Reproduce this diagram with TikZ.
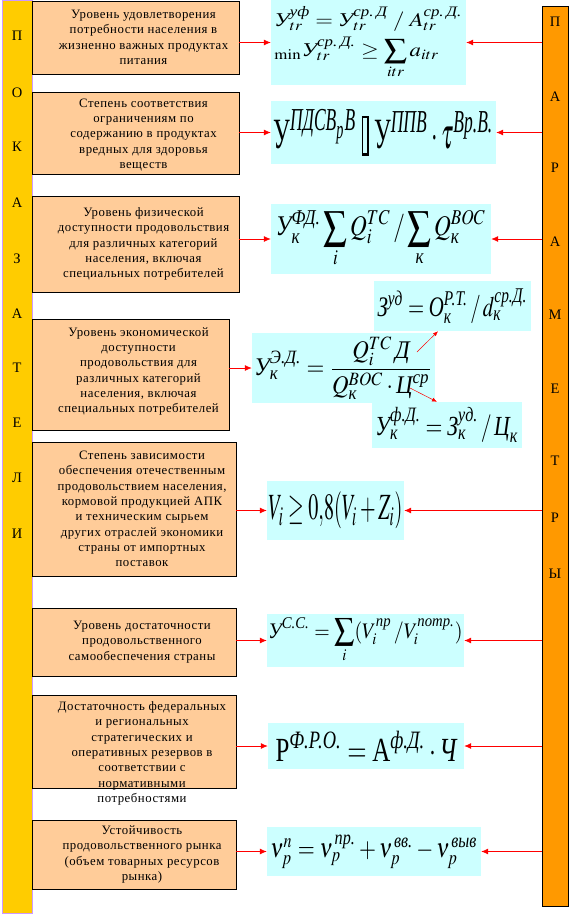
\documentclass[tikz,border=0pt]{standalone}
\usepackage{amsmath}
\usepackage{mathptmx}
\usepackage{graphicx}
\usepackage{fontspec}
\setmainfont{Liberation Serif}
\newfontfamily\boxfont[LetterSpace=4]{Liberation Serif}
\usetikzlibrary{arrows.meta}

\definecolor{barYellow}{HTML}{FFCC00}
\definecolor{barOrange}{HTML}{FF9900}
\definecolor{barLilac}{HTML}{CC99FF}
\definecolor{boxPeach}{HTML}{FFCC99}
\definecolor{formCyan}{HTML}{CCFFFF}

\newcommand{\ct}[1]{\text{\itshape #1}}
\newcommand{\fitform}[3]{\resizebox*{#1pt}{#2pt}{#3}}
\newcommand{\nochar}{{\fboxsep=0pt\fboxrule=0.6pt\fbox{\rule[-0.1em]{0pt}{0.8em}\hspace{0.18em}}}}

\tikzstyle{crit}=[draw=black,fill=boxPeach,line width=0.9pt,inner sep=0pt]
\tikzstyle{crittext}=[align=center,inner sep=0pt,font=\boxfont\fontsize{12.8}{15.3}\selectfont]
\tikzstyle{formula}=[fill=formCyan,inner sep=0pt]
\tikzstyle{barletter}=[font=\fontsize{14.5}{14.5}\selectfont,inner sep=0pt]
\tikzstyle{link}=[draw=red,line width=0.8pt,-{Latex[length=7pt,width=6pt]}]
\tikzstyle{thin link}=[draw=red,line width=0.5pt,-{Latex[length=5pt,width=4pt]}]

\begin{document}
\begin{tikzpicture}[x=1pt,y=-1pt]
\useasboundingbox (0,0) rectangle (570,916);
			% the two side bars
			\node[draw=barLilac,fill=barYellow,line width=0.8pt,minimum width=30,minimum height=913,inner sep=0pt,anchor=north west] (ybar) at (2,0) {};
			\node[draw=black,fill=barOrange,line width=0.9pt,minimum width=26,minimum height=900,inner sep=0pt,anchor=north west] (obar) at (542,6) {};
			\foreach \ch/\yy [count=\i] in {П/36,О/93,К/147,А/203,З/259,А/314,Т/368,Е/423,Л/478,И/534}
				\node[barletter] (ind\i) at (17,\yy) {\ch};
			\foreach \ch/\yy [count=\i] in {П/22,А/97,Р/168,А/242,М/315,Е/389,Т/461,Р/518,Ы/574}
				\node[barletter] (par\i) at (555,\yy) {\ch};

			% indicators
			\node[crit,minimum width=207,minimum height=73] (l1) at (135.5,37.5) {};
			\node[crittext] (t1) at ([xshift=8]l1.center) {Уровень удовлетворения\\потребности населения в\\жизненно важных продуктах\\питания};
			\node[crit,minimum width=207,minimum height=82] (l2) at (135.5,133) {};
			\node[crittext] (t2) at ([xshift=8,yshift=-2]l2.center) {Степень соответствия\\ограничениям по\\содержанию в продуктах\\вредных для здоровья\\веществ};
			\node[crit,minimum width=207,minimum height=96] (l3) at (135.5,244) {};
			\node[crittext] (t3) at ([xshift=8]l3.center) {Уровень физической\\доступности продовольствия\\для различных категорий\\населения, включая\\специальных потребителей};
			\node[crit,minimum width=197,minimum height=111] (l4) at (130.5,374.5) {};
			\node[crittext] (t4) at ([xshift=8,yshift=3]l4.center) {Уровень экономической\\доступности\\продовольствия для\\различных категорий\\населения, включая\\специальных потребителей};
			\node[crit,minimum width=204,minimum height=134] (l5) at (134,509) {};
			\node[crittext] (t5) at ([xshift=8]l5.center) {Степень зависимости\\обеспечения отечественным\\продовольствием населения,\\кормовой продукцией АПК\\и техническим сырьем\\других отраслей экономики\\страны от импортных\\поставок};
			\node[crit,minimum width=204,minimum height=68] (l6) at (134,642) {};
			\node[crittext] (t6) at ([xshift=8]l6.center) {Уровень достаточности\\продовольственного\\самообеспечения страны};
			\node[crit,minimum width=204,minimum height=93] (l7) at (134,741.5) {};
			\node[crittext] (t7) at ([xshift=8,yshift=-12]l7.center) {Достаточность федеральных\\и региональных\\стратегических и\\оперативных резервов в\\соответствии с\\нормативными\\потребностями};
			\node[crit,minimum width=204,minimum height=69] (l8) at (134,854.5) {};
			\node[crittext] (t8) at ([xshift=8]l8.center) {Устойчивость\\продовольственного рынка\\(объем товарных ресурсов\\рынка)};

			% formulas
			\node[formula,minimum width=195,minimum height=85] (f1) at (368.5,42.5)
				{\fitform{188}{72}{\begin{tabular}{@{}l@{}}$\ct{У}_{tr}^{\ct{уф}} = \ct{У}_{tr}^{\ct{ср.\,Д}}\;/\;A_{tr}^{\ct{ср.\,Д.}}$\\[2pt]${}_{\min}\ct{У}_{tr}^{\ct{ср.\,Д.}} \geq \displaystyle\sum_{itr} a_{itr}$\end{tabular}}};
			\node[formula,minimum width=225,minimum height=63] (f2) at (383.5,132.5)
				{\fitform{220}{46}{$\text{У}^{\ct{ПДСВ}_{\ct{р}}\ct{В}}\;\nochar\;\text{У}^{\ct{ППВ}}\cdot\tau^{\ct{Вр.В.}}$}};
			\node[formula,minimum width=220,minimum height=70] (f3) at (381,239)
				{\fitform{210}{58}{$\displaystyle\ct{У}_{\ct{к}}^{\ct{ФД.}}\sum_{i} Q_i^{TC}\,/\sum_{\ct{к}} Q_{\ct{к}}^{BOC}$}};
			\node[formula,minimum width=157,minimum height=50] (fzud) at (452.5,306)
				{\fitform{150}{35}{$\ct{З}^{\ct{уд}} = \ct{О}_{\ct{к}}^{\ct{Р.Т.}}\,/\,d_{\ct{к}}^{\ct{ср.Д.}}$}};
			\node[formula,minimum width=183,minimum height=70] (f4) at (343.5,368)
				{\fitform{178}{63}{$\ct{У}_{\ct{к}}^{\ct{Э.Д.}} = \dfrac{Q_i^{TC}\,\ct{Д}}{Q_{\ct{к}}^{BOC}\cdot\ct{Ц}^{\ct{ср}}}$}};
			\node[formula,minimum width=150,minimum height=46] (fyfd) at (447,425)
				{\fitform{143}{35}{$\ct{У}_{\ct{к}}^{\ct{ф.Д.}} = \ct{З}_{\ct{к}}^{\ct{уд.}}\,/\,\ct{Ц}_{\ct{к}}$}};
			\node[formula,minimum width=137,minimum height=59] (f5) at (335.5,510.5)
				{\fitform{134}{37}{$V_i \geq 0{,}8(V_i+Z_i)$}};
			\node[formula,minimum width=197,minimum height=53] (f6) at (365.5,640.5)
				{\fitform{194}{45}{$\displaystyle\ct{У}^{\ct{С.С.}} = \sum_i (V_i^{\ct{пр}}\,/V_i^{\ct{потр.}})$}};
			\node[formula,minimum width=196,minimum height=46] (f7) at (366,746)
				{\fitform{181}{30}{$\text{Р}^{\ct{Ф.Р.О.}} = \text{А}^{\ct{ф.Д.}}\cdot\ct{Ч}$}};
			\node[formula,minimum width=214,minimum height=49] (f8) at (374,851.5)
				{\fitform{207}{34}{$\nu_p^{n} = \nu_p^{\,\ct{пр.}} + \nu_p^{\,\ct{вв.}} - \nu_p^{\,\ct{выв}}$}};

			% connect indicators, formulas and parameters
			\foreach \i in {1,...,8}
				\path[link] (l\i.east |- f\i.west) -- (f\i.west);
			\foreach \i in {1,2,3,5,6,7,8}
				\path[link] (obar.west |- f\i.east) -- (f\i.east);
			\coordinate (dtail) at (417,352);
			\coordinate (ctail) at (410,388);
			\path[thin link] (dtail) -- (fzud.south west -| 438,0);
			\path[thin link] (ctail) -- (fyfd.north west -| 437,0);
\end{tikzpicture}
\end{document}
